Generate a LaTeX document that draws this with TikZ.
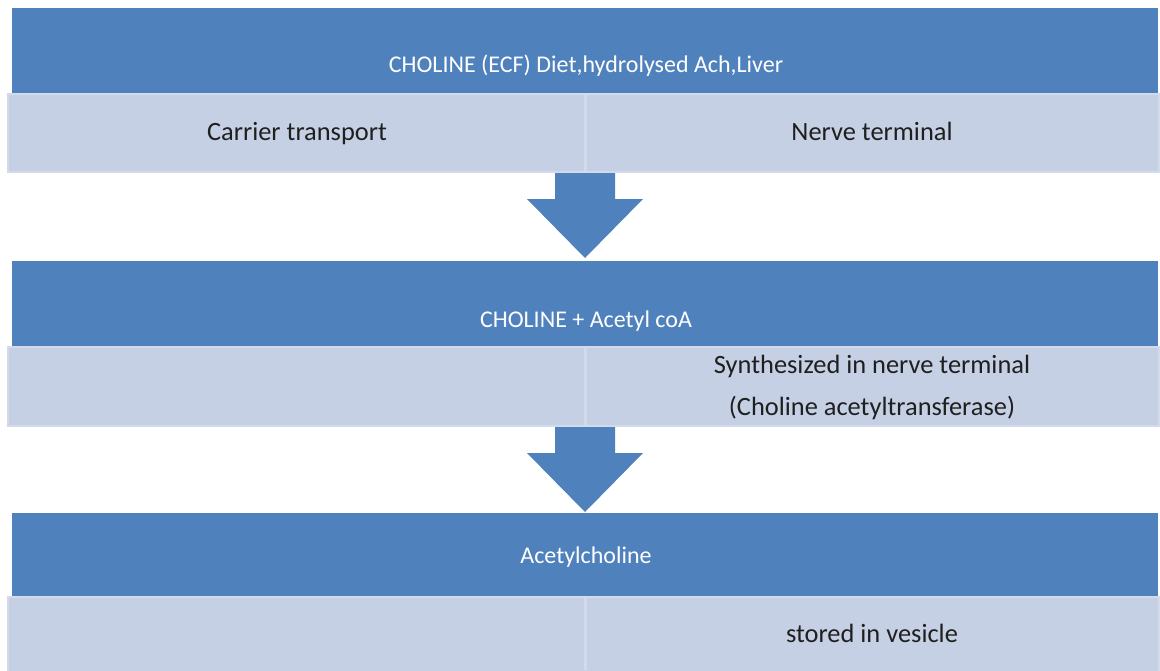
\documentclass[tikz,border=0pt]{standalone}
\usepackage{fontspec}
\setmainfont{Carlito}
\definecolor{hdr}{HTML}{4F81BD}
\definecolor{lite}{HTML}{C5D0E4}
\definecolor{liteedge}{HTML}{D3DBEA}
\begin{document}
\begin{tikzpicture}[x=1pt,y=-1pt,
  hdrbox/.style={fill=hdr,draw=none},
  litebox/.style={fill=lite,draw=liteedge,line width=2pt},
  hdrtext/.style={text=white,font=\fontsize{24}{28}\selectfont,inner sep=0pt,anchor=base},
  celltext/.style={text=black!88,font=\fontsize{26.4}{42}\selectfont,inner sep=0pt,anchor=base,align=center},
  splitline/.style={draw=liteedge,line width=3pt},
  flowarrow/.style={fill=hdr,draw=none}]
\useasboundingbox (0,0) rectangle (1160,670);
\fill[white] (0,0) rectangle (1160,670);

% row 1
\fill[hdrbox] (12,8) rectangle (1158,93);
\draw[litebox] (8,94) rectangle (1159,172);
\draw[splitline] (585,95) -- (585,171);
\node[hdrtext] (t1) at (586,72) {CHOLINE (ECF) Diet,hydrolysed Ach,Liver};
\node[celltext] (c1a) at (297,140) {Carrier transport};
\node[celltext] (c1b) at (872,140) {Nerve terminal};

% arrow 1
\fill[flowarrow] (555,173) -- (615,173) -- (615,199) -- (643,199) -- (585,258) -- (527,199) -- (555,199) -- cycle;

% row 2
\fill[hdrbox] (12,261) rectangle (1158,346);
\draw[litebox] (8,347) rectangle (1159,426);
\draw[splitline] (585,348) -- (585,425);
\node[hdrtext] (t2) at (586,327) {CHOLINE + Acetyl coA};
\node[celltext] (c2b) at (872,373) {Synthesized in nerve terminal};
\node[celltext] (c2c) at (872,415) {(Choline acetyltransferase)};

% arrow 2
\fill[flowarrow] (555,427) -- (615,427) -- (615,453) -- (643,453) -- (585,512) -- (527,453) -- (555,453) -- cycle;

% row 3
\fill[hdrbox] (12,513) rectangle (1158,596);
\draw[litebox] (8,597) rectangle (1159,672);
\draw[splitline] (585,598) -- (585,670);
\node[hdrtext] (t3) at (586,563) {Acetylcholine};
\node[celltext] (c3b) at (872,642) {stored in vesicle};
\end{tikzpicture}
\end{document}
